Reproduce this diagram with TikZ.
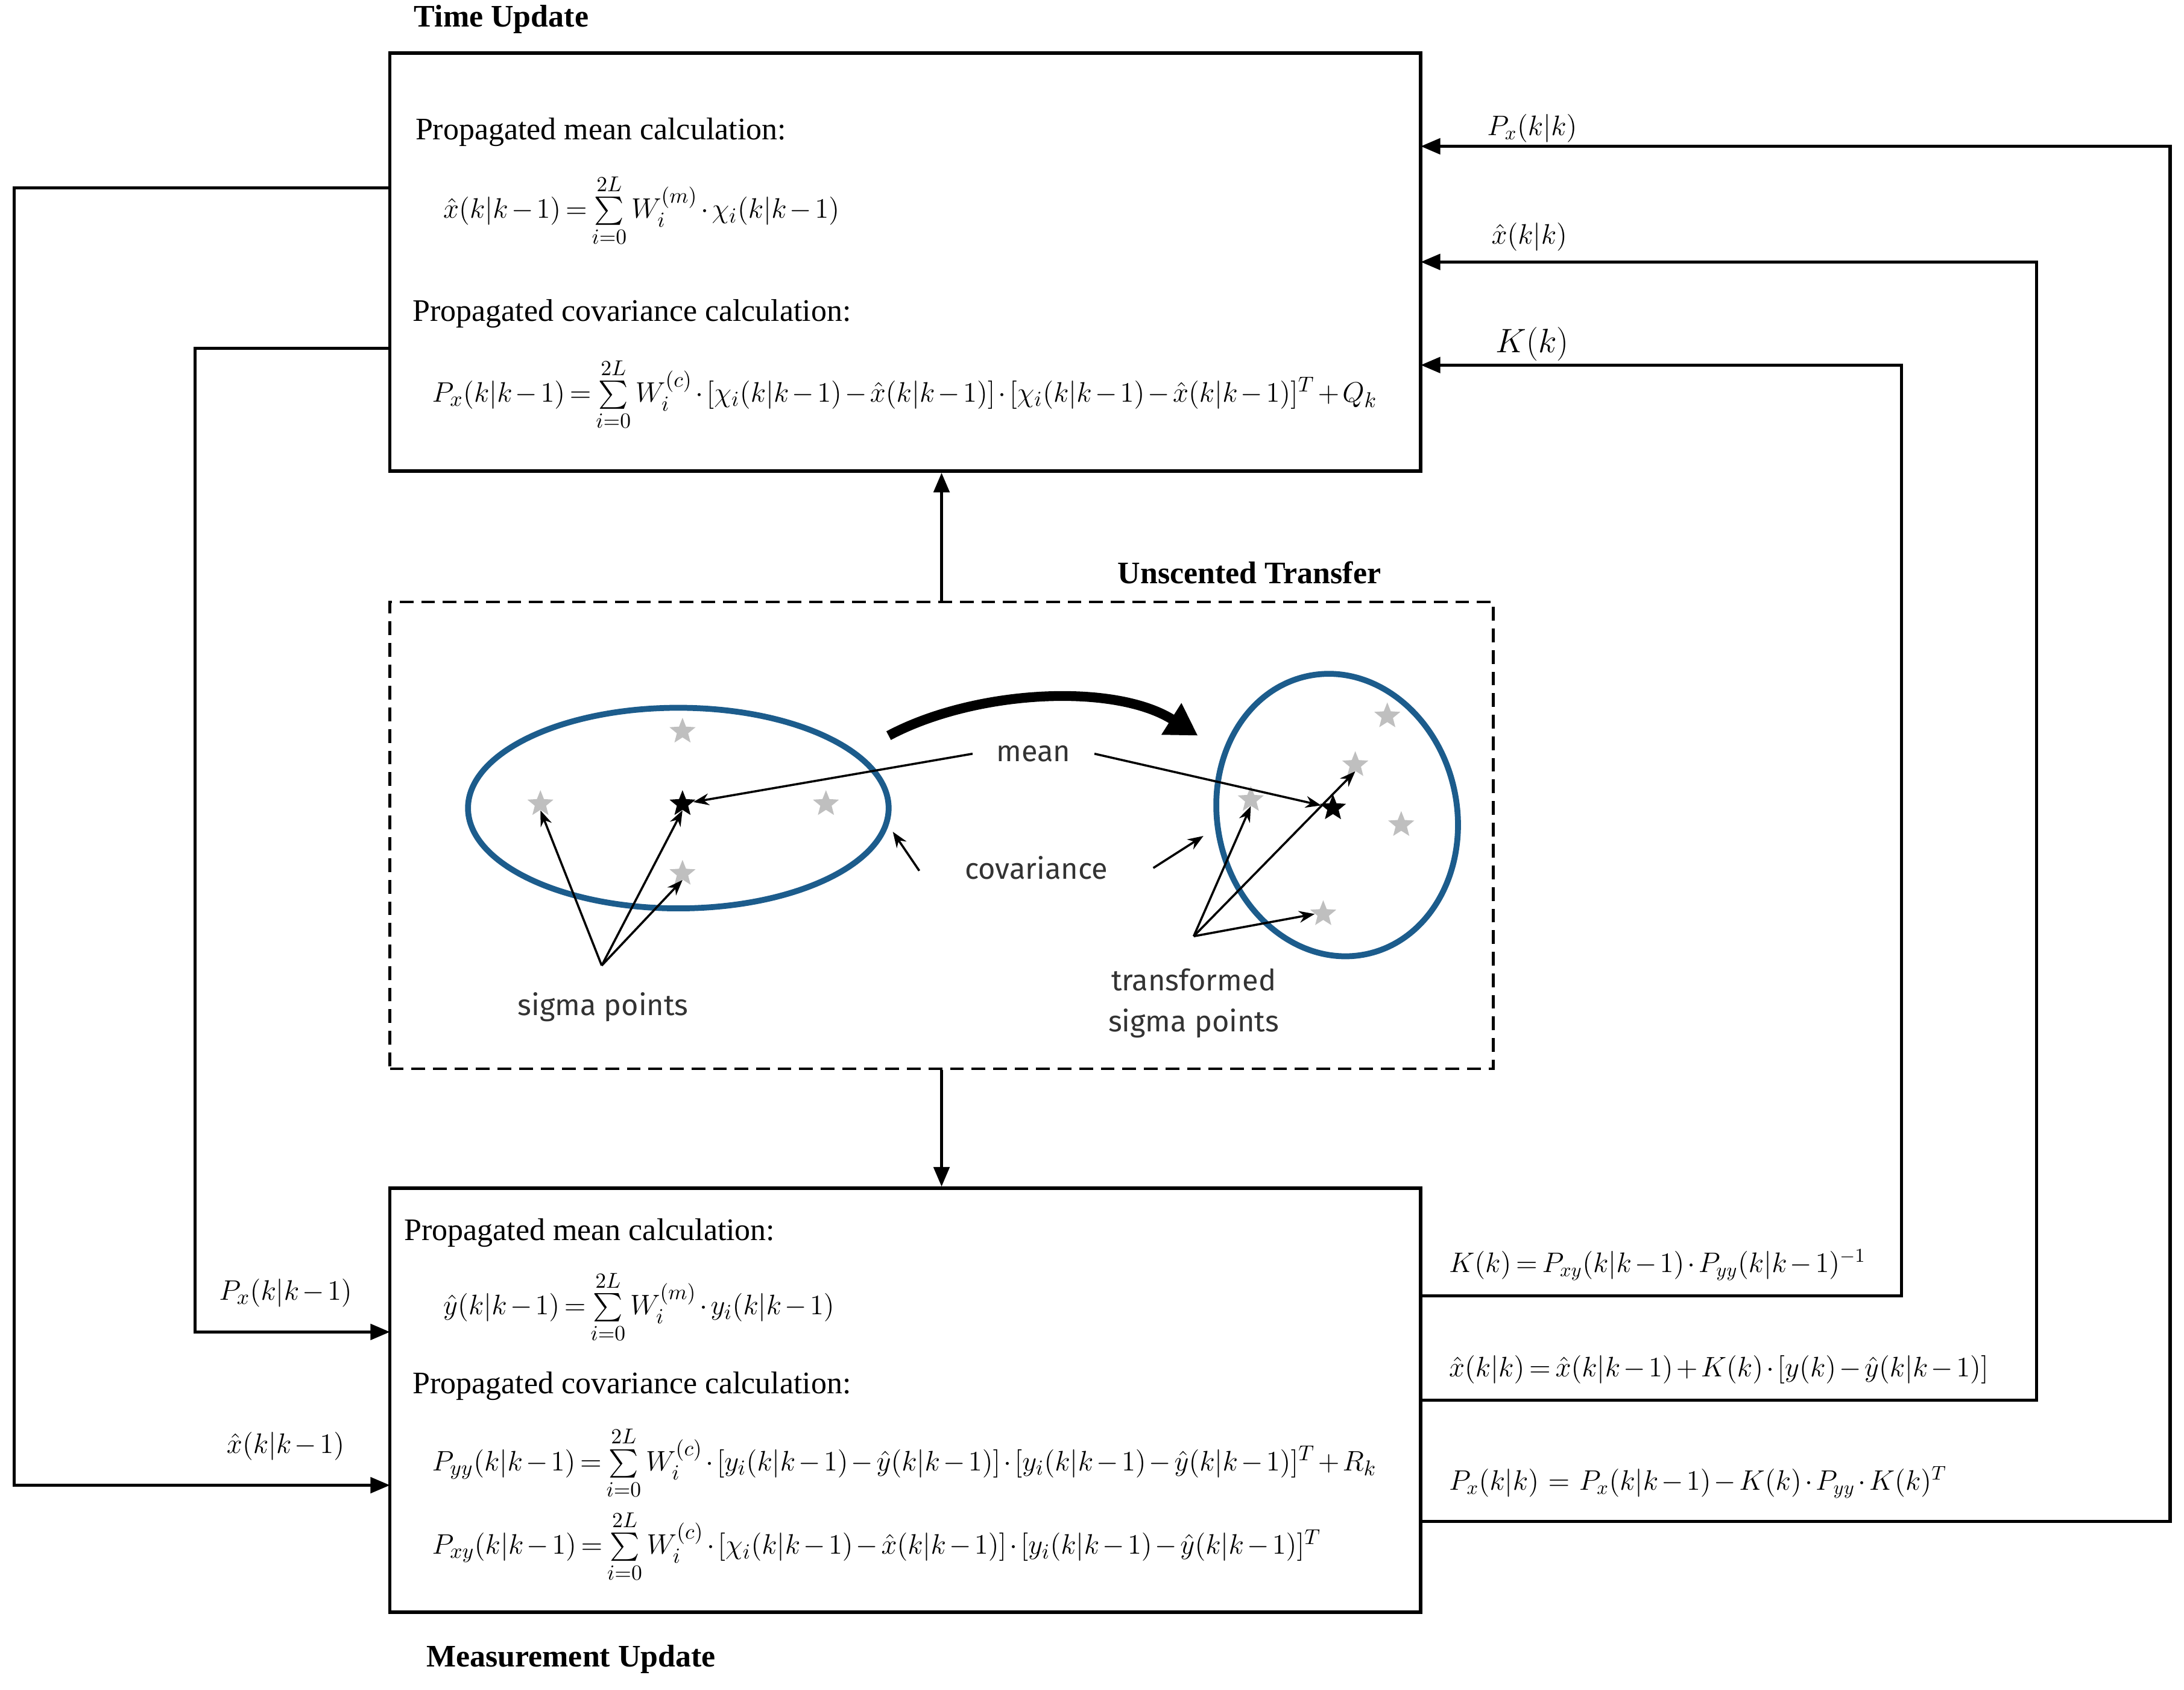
\documentclass[tikz,border=0pt]{standalone}
\usepackage{amsmath}
\usepackage{fontspec}
\setmainfont{Liberation Serif}
\newfontfamily\utsans{Fira Sans}
\usetikzlibrary{arrows.meta,shapes.geometric}
\definecolor{ellblue}{RGB}{28,92,140}
\newcommand{\mysum}{\sum\limits_{i=0}^{2L}}
\medmuskip=2mu plus 1mu
\thickmuskip=3mu plus 2mu
\begin{document}
\begin{tikzpicture}[x=0.025cm,y=-0.025cm,
  box/.style={draw,line width=1.8pt,minimum width=18.5cm,inner sep=0},
  conn/.style={line width=1.6pt,-{Triangle[length=10pt,width=8pt]}},
  hd/.style={anchor=west,font=\fontsize{16}{18}\selectfont,inner sep=0},
  eq/.style={anchor=west,font=\fontsize{15}{16}\selectfont,inner sep=0},
  lab/.style={anchor=west,font=\fontsize{14}{15}\selectfont,inner sep=0},
  ttl/.style={font=\bfseries\fontsize{16}{18}\selectfont,inner sep=0},
  gstar/.style={star,star points=5,star point ratio=2.3,fill=gray!50,minimum size=14pt,inner sep=0},
  bstar/.style={star,star points=5,star point ratio=2.3,fill=black,minimum size=14pt,inner sep=0},
  sa/.style={line width=1.1pt,-{Stealth[length=8pt,width=6pt]}},
  uts/.style={font=\utsans\fontsize{15}{17}\selectfont,text=black!80,inner sep=1pt}]
\useasboundingbox (0,0) rectangle (1568,1213);
% boxes
\node[box,minimum height=7.5cm] (tu) at (650,188) {};
\node[box,minimum height=7.6cm] (mu) at (650,1005) {};
\node[draw,dash pattern=on 7pt off 4pt,line width=1.3pt,minimum width=19.8cm,minimum height=8.375cm,inner sep=0] (ut) at (676,599.5) {};
\node[ttl] (tut) at (360,14) {Time Update};
\node[ttl] (mut) at (410,1191) {Measurement Update};
\node[ttl] (utt) at (897,411) {Unscented Transfer};
% top box text
\node[hd] (t1) at (298,95) {Propagated mean calculation:};
\node[eq] (t2) at (318,151) {$\hat{x}(k|k-1)=\mysum W_i^{(m)}\cdot\chi_i(k|k-1)$};
\node[hd] (t3) at (296,225) {Propagated covariance calculation:};
\node[eq] (t4) at (310,283) {$P_x(k|k-1)=\mysum W_i^{(c)}\cdot[\chi_i(k|k-1)-\hat{x}(k|k-1)]\cdot[\chi_i(k|k-1)-\hat{x}(k|k-1)]^T+Q_k$};
% bottom box text
\node[hd] (b1) at (290,885) {Propagated mean calculation:};
\node[eq] (b2) at (318,938) {$\hat{y}(k|k-1)=\mysum W_i^{(m)}\cdot y_i(k|k-1)$};
\node[hd] (b3) at (296,995) {Propagated covariance calculation:};
\node[eq] (b4) at (310,1050) {$P_{yy}(k|k-1)=\mysum W_i^{(c)}\cdot[y_i(k|k-1)-\hat{y}(k|k-1)]\cdot[y_i(k|k-1)-\hat{y}(k|k-1)]^T+R_k$};
\node[eq] (b5) at (310,1110) {$P_{xy}(k|k-1)=\mysum W_i^{(c)}\cdot[\chi_i(k|k-1)-\hat{x}(k|k-1)]\cdot[y_i(k|k-1)-\hat{y}(k|k-1)]^T$};
% vertical arrows
\draw[conn] (ut.north) -- (ut.north |- tu.south);
\draw[conn] (ut.south) -- (ut.south |- mu.north);
% left feedback
\coordinate (l1a) at (280,135); \coordinate (l1b) at (10,135);
\coordinate (l1c) at (10,1066); \coordinate (l1d) at (280,1066);
\draw[conn] (l1a) -- (l1b) -- (l1c) -- (l1d);
\coordinate (l2a) at (280,250); \coordinate (l2b) at (140,250);
\coordinate (l2c) at (140,956); \coordinate (l2d) at (280,956);
\draw[conn] (l2a) -- (l2b) -- (l2c) -- (l2d);
\node[lab,anchor=center,font=\fontsize{15}{17}\selectfont] (lx) at (205,1038) {$\hat{x}(k|k-1)$};
\node[lab,anchor=center,font=\fontsize{15}{17}\selectfont] (lp) at (205,928) {$P_x(k|k-1)$};
% right feedback
\coordinate (r1a) at (1020,930); \coordinate (r1b) at (1365,930);
\coordinate (r1c) at (1365,262); \coordinate (r1d) at (1020,262);
\draw[conn] (r1a) -- (r1b) -- (r1c) -- (r1d);
\coordinate (r2a) at (1020,1005); \coordinate (r2b) at (1462,1005);
\coordinate (r2c) at (1462,188); \coordinate (r2d) at (1020,188);
\draw[conn] (r2a) -- (r2b) -- (r2c) -- (r2d);
\coordinate (r3a) at (1020,1092); \coordinate (r3b) at (1558,1092);
\coordinate (r3c) at (1558,105); \coordinate (r3d) at (1020,105);
\draw[conn] (r3a) -- (r3b) -- (r3c) -- (r3d);
\node[lab,anchor=center,font=\fontsize{17}{19}\selectfont] (lk) at (1100,247) {$K(k)$};
\node[lab,anchor=center] (lxk) at (1098,170) {$\hat{x}(k|k)$};
\node[lab,anchor=center] (lpk) at (1100,92) {$P_x(k|k)$};
\node[lab] (e1) at (1040,908) {$K(k)=P_{xy}(k|k-1)\cdot P_{yy}(k|k-1)^{-1}$};
\node[lab] (e2) at (1040,983) {$\hat{x}(k|k)=\hat{x}(k|k-1)+K(k)\cdot[y(k)-\hat{y}(k|k-1)]$};
\node[lab] (e3) at (1040,1064) {$P_x(k|k)\,=\,P_x(k|k-1)-K(k)\cdot P_{yy}\cdot K(k)^T$};
% unscented picture
\draw[ellblue,line width=3pt] (487,580) ellipse [x radius=151,y radius=72];
\draw[ellblue,line width=3pt,rotate around={12:(960,585)}] (960,585) ellipse [x radius=86,y radius=102];
\node[gstar] (s1) at (490,525) {}; \node[gstar] (s2) at (388,577) {};
\node[gstar] (s3) at (593,577) {}; \node[gstar] (s4) at (490,627) {};
\node[bstar] (s0) at (490,577) {};
\node[gstar] (q1) at (996,514) {}; \node[gstar] (q2) at (973,549) {};
\node[gstar] (q3) at (898,574) {}; \node[gstar] (q4) at (1006,592) {};
\node[gstar] (q5) at (950,656) {};
\node[bstar] (q0) at (957,580) {};
\node[uts,inner xsep=12pt] (mean) at (742,541) {mean};
\node[uts] (cov) at (744,623) {covariance};
\node[uts] (sp) at (433,723) {sigma points};
\node[uts,align=center] (tsp) at (857,720) {transformed\\[4pt]sigma points};
\coordinate (ap1) at (432,693); \coordinate (ap2) at (857,672);
\draw[sa] (mean.west) -- (s0);
\draw[sa] (mean.east) -- (q0);
\coordinate (cw) at (660,625); \coordinate (ce) at (828,623);
\draw[sa] (cw) -- (641,597);
\draw[sa] (ce) -- (864,600);
\draw[sa] (ap1) -- (s2.south); \draw[sa] (ap1) -- (s0.south); \draw[sa] (ap1) -- (s4.south);
\draw[sa] (ap2) -- (q3.south); \draw[sa] (ap2) -- (q2.south); \draw[sa] (ap2) -- (q5.west);
\coordinate (ca) at (638,528); \coordinate (cb) at (860,528);
\draw[line width=5pt,-{Triangle[length=16pt,width=18pt]}] (ca) .. controls (700,495) and (800,490) .. (cb);
\end{tikzpicture}
\end{document}
